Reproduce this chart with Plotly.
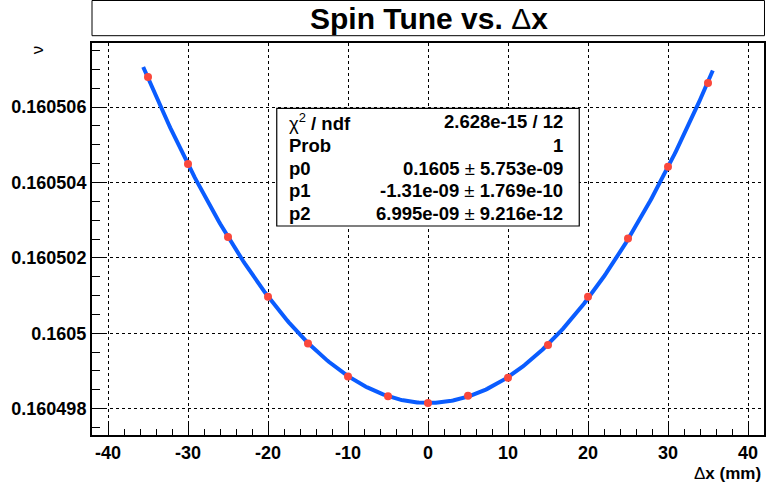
import numpy as np
import plotly.graph_objects as go

# Measured spin tune versus horizontal offset
dx_mm = [-35, -30, -25, -20, -15, -10, -5, 0, 5, 10, 15, 20, 25, 30, 35]
spin_tune = [0.16050680, 0.16050449, 0.16050255, 0.16050097, 0.16049973,
             0.16049885, 0.16049833, 0.16049815, 0.16049834, 0.16049882,
             0.16049969, 0.16050097, 0.16050251, 0.16050442, 0.16050664]

# pol2 fit parameters (p0 + p1*x + p2*x^2) and fit statistics
p0, p0_err = 0.16049815, 5.753e-09
p1, p1_err = -1.31e-09, 1.769e-10
p2, p2_err = 6.995e-09, 9.216e-12
chi2, ndf, prob = 2.628e-15, 12, 1
fit_range = (-35.6, 35.6)

y_tickvals = [0.160498, 0.1605, 0.160502, 0.160504, 0.160506]
y_ticktext = ["0.160498", "0.1605", "0.160502", "0.160504", "0.160506"]
x_tickvals = [-40, -30, -20, -10, 0, 10, 20, 30, 40]
x_ticktext = ["-40", "-30", "-20", "-10", "0", "10", "20", "30", "40"]

W, H = 768, 484
ML, MR, MT, MB = 92, 2, 43, 49
PW, PH = W - ML - MR, H - MT - MB


def px(x):
    return (x - ML) / PW


def py(y):
    return (H - MB - y) / PH


xf = np.linspace(fit_range[0], fit_range[1], 400)
yf = p0 + p1 * xf + p2 * xf ** 2

FONT = "Liberation Sans, Arial, Helvetica, sans-serif"

fig = go.Figure()
fig.add_trace(go.Scatter(x=xf, y=yf, mode="lines",
                         line=dict(color="#0a5cff", width=4),
                         hoverinfo="skip", showlegend=False))
fig.add_trace(go.Scatter(x=dx_mm, y=spin_tune, mode="markers",
                         marker=dict(color="rgb(250,72,60)", size=8),
                         showlegend=False))

axis_common = dict(
    showline=True, linecolor="black", linewidth=2, mirror=True,
    showgrid=True, gridcolor="black", gridwidth=1, griddash="dot",
    zeroline=False, ticks="inside", tickcolor="black", tickwidth=1,
    tickfont=dict(family=FONT, size=18, color="black", weight="bold"),
)

fig.update_xaxes(range=[-42, 42], tickvals=x_tickvals, ticktext=x_ticktext,
                 ticklen=12,
                 minor=dict(dtick=2, ticks="inside", ticklen=6,
                            tickcolor="black", showgrid=False),
                 **axis_common)
fig.update_yaxes(range=[0.1604973, 0.1605077], tickvals=y_tickvals,
                 ticktext=y_ticktext, ticklen=14,
                 minor=dict(dtick=0.5e-6, tick0=0.160498, ticks="inside",
                            ticklen=8, tickcolor="black", showgrid=False),
                 **axis_common)

shapes = [
    # title box
    dict(type="rect", xref="paper", yref="paper",
         x0=px(92), x1=px(766.5), y0=py(35.7), y1=py(0.5),
         line=dict(color="black", width=1), fillcolor="white"),
    # fit statistics box
    dict(type="rect", xref="paper", yref="paper",
         x0=px(277.3), x1=px(580.7), y0=py(226), y1=py(108.3),
         line=dict(color="black", width=1.2), fillcolor="white", layer="above"),
]

annotations = [
    dict(text="<b>Spin Tune vs. </b>Δ<b>x</b>", x=px(430), y=py(18),
         xref="paper", yref="paper", showarrow=False,
         xanchor="center", yanchor="middle",
         font=dict(family=FONT, size=30, color="black")),
    dict(text="ν", x=px(37), y=py(50), xref="paper", yref="paper",
         showarrow=False, textangle=-90, xanchor="center", yanchor="middle",
         font=dict(family=FONT, size=17, color="black")),
    dict(text="Δ<b>x (mm)</b>", x=px(765), y=py(473), xref="paper", yref="paper",
         showarrow=False, xanchor="right", yanchor="middle",
         font=dict(family=FONT, size=17, color="black")),
]

stat_rows = [
    ("χ<sup>2</sup><b> / ndf</b>", f"<b>{chi2:.3e} / {ndf}</b>"),
    ("<b>Prob</b>", f"<b>{prob}</b>"),
    ("<b>p0</b>", f"<b>{p0:.4f}</b> ± <b>{p0_err:.3e}</b>"),
    ("<b>p1</b>", f"<b>{p1:.2e}</b> ± <b>{p1_err:.3e}</b>"),
    ("<b>p2</b>", f"<b>{p2:.3e}</b> ± <b>{p2_err:.3e}</b>"),
]
row_y = [121.7, 145, 168.3, 190.5, 213.3]
for (lab, val), yy in zip(stat_rows, row_y):
    annotations.append(dict(text=lab, x=px(288), y=py(yy), xref="paper", yref="paper",
                            showarrow=False, xanchor="left", yanchor="middle",
                            font=dict(family=FONT, size=18.5, color="black")))
    annotations.append(dict(text=val, x=px(566), y=py(yy), xref="paper", yref="paper",
                            showarrow=False, xanchor="right", yanchor="middle",
                            font=dict(family=FONT, size=18.5, color="black")))

fig.update_layout(
    width=W, height=H,
    margin=dict(l=ML, r=MR, t=MT, b=MB),
    paper_bgcolor="white", plot_bgcolor="white",
    shapes=shapes, annotations=annotations,
    showlegend=False,
)

fig.write_html("out.html")
